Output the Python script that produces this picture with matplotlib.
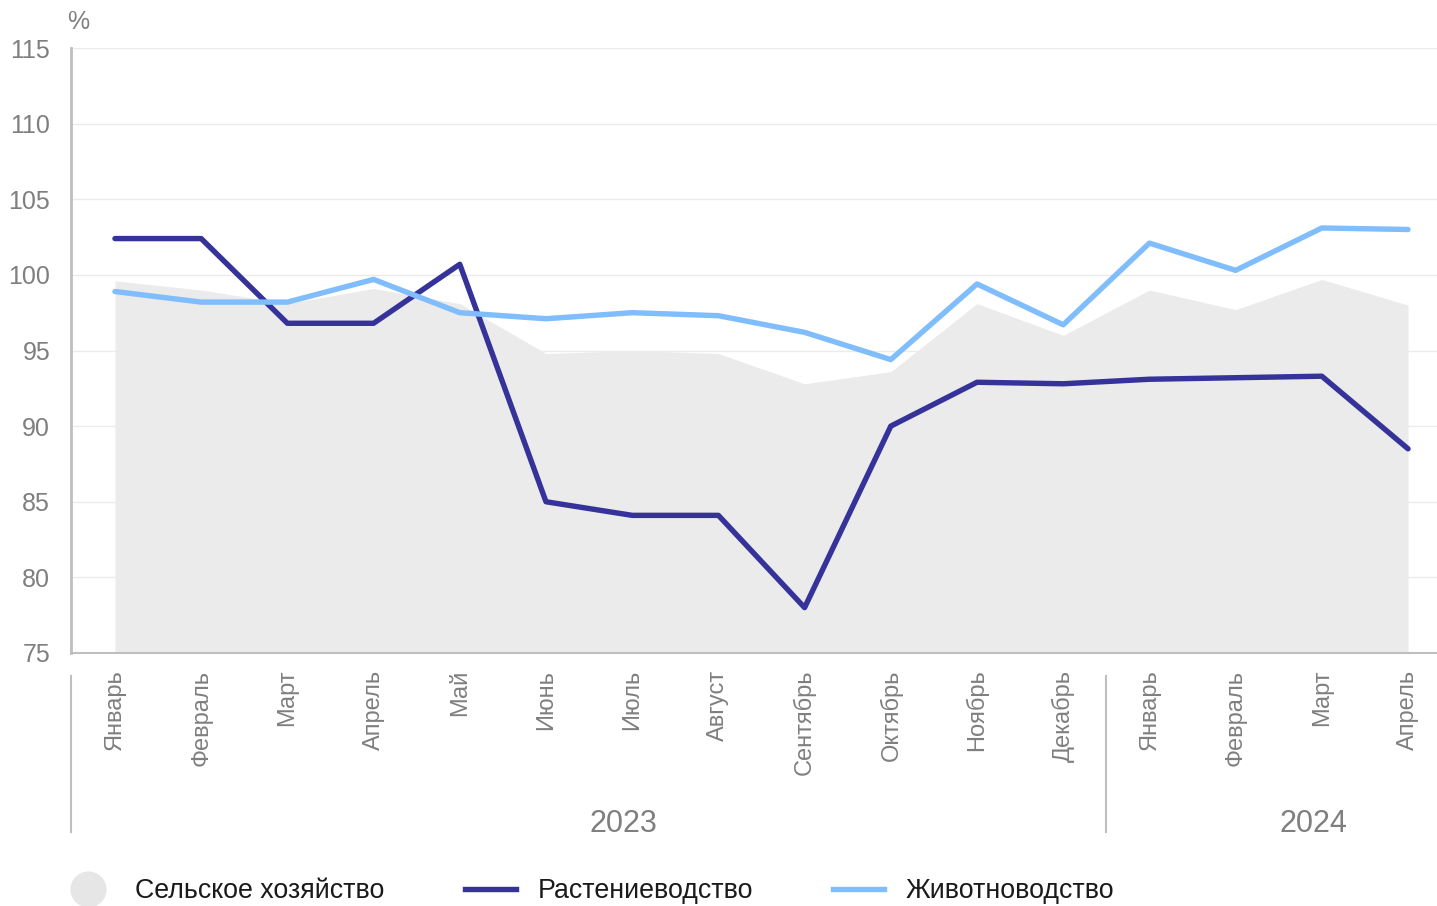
import matplotlib.pyplot as plt
from matplotlib.lines import Line2D

plt.rcParams['font.family'] = ['Liberation Sans', 'DejaVu Sans']

# Данные
meses = ["Январь", "Февраль", "Март", "Апрель", "Май", "Июнь", "Июль", "Август",
         "Сентябрь", "Октябрь", "Ноябрь", "Декабрь",
         "Январь", "Февраль", "Март", "Апрель"]
selskoe = [99.6, 99.0, 98.1, 99.1, 98.1, 94.8, 95.0, 94.8, 92.8, 93.6,
           98.1, 96.0, 99.0, 97.7, 99.7, 98.0]
rastenievodstvo = [102.4, 102.4, 96.8, 96.8, 100.7, 85.0, 84.1, 84.1, 78.0, 90.0,
                   92.9, 92.8, 93.1, 93.2, 93.3, 88.5]
zhivotnovodstvo = [98.9, 98.2, 98.2, 99.7, 97.5, 97.1, 97.5, 97.3, 96.2, 94.4,
                   99.4, 96.7, 102.1, 100.3, 103.1, 103.0]
anos = ["2023", "2024"]
pos_anos = [5.9, 13.9]
yticks = [75, 80, 85, 90, 95, 100, 105, 110, 115]

gris = "#7f7f7f"
c_area = "#ebebeb"
c_rast = "#35339a"
c_zhiv = "#80bdfc"

x = list(range(len(meses)))

fig = plt.figure(figsize=(14.37, 9.06), dpi=100)
ax = fig.add_axes([71 / 1437, 1 - 653 / 906, 1 - 71 / 1437, (653 - 48) / 906])

ax.fill_between(x, 75, selskoe, color=c_area, linewidth=0, zorder=1)
ax.plot(x, rastenievodstvo, color=c_rast, lw=3.9, solid_capstyle="round", zorder=3)
ax.plot(x, zhivotnovodstvo, color=c_zhiv, lw=3.9, solid_capstyle="round", zorder=3)

ax.set_ylim(75, 115)
ax.set_xlim(-0.51, 15.336)
ax.set_yticks(yticks)
ax.set_yticklabels([str(v) for v in yticks], fontsize=18, color=gris)
ax.set_xticks(x)
ax.set_xticklabels(meses, rotation=90, fontsize=17, color=gris)
ax.tick_params(axis="y", length=0, pad=15)
ax.tick_params(axis="x", length=0, pad=12)

ax.grid(axis="y", color="#ebebeb", lw=1)
ax.set_axisbelow(True)
for s in ["top", "right"]:
    ax.spines[s].set_visible(False)
ax.spines["left"].set_color("#bfbfbf")
ax.spines["left"].set_linewidth(2)
ax.spines["bottom"].set_color("#bfbfbf")
ax.spines["bottom"].set_linewidth(1.5)

# подпись "%"
ax.text(67 / 1437, 1 - 22 / 906, "%", transform=fig.transFigure, fontsize=18,
        color=gris, va="center", ha="left")

# разделители годов
trans = ax.get_xaxis_transform()
for xs in [-0.51, 11.5]:
    ax.plot([xs, xs], [-0.038, -0.296], transform=trans, color="#bfbfbf",
            lw=1.5, clip_on=False)
for px, lab in zip(pos_anos, anos):
    ax.text(px, -0.282, lab, transform=trans, fontsize=22, color=gris,
            ha="center", va="center")

# легенда
handles = [
    Line2D([], [], marker="o", markersize=26, color="none",
           markerfacecolor="#e6e6e6", markeredgecolor="none"),
    Line2D([], [], color=c_rast, lw=3.9),
    Line2D([], [], color=c_zhiv, lw=3.9),
]
labels = ["Сельское хозяйство", "Растениеводство", "Животноводство"]
fig.legend(handles, labels, loc="center left", bbox_to_anchor=(63 / 1437, 1 - 891 / 906),
           ncol=3, frameon=False, fontsize=19.3, handlelength=1.9, handletextpad=0.8,
           columnspacing=3.0, borderpad=0, borderaxespad=0, labelcolor="#1a1a1a")

fig.savefig("out.png", dpi=100)
